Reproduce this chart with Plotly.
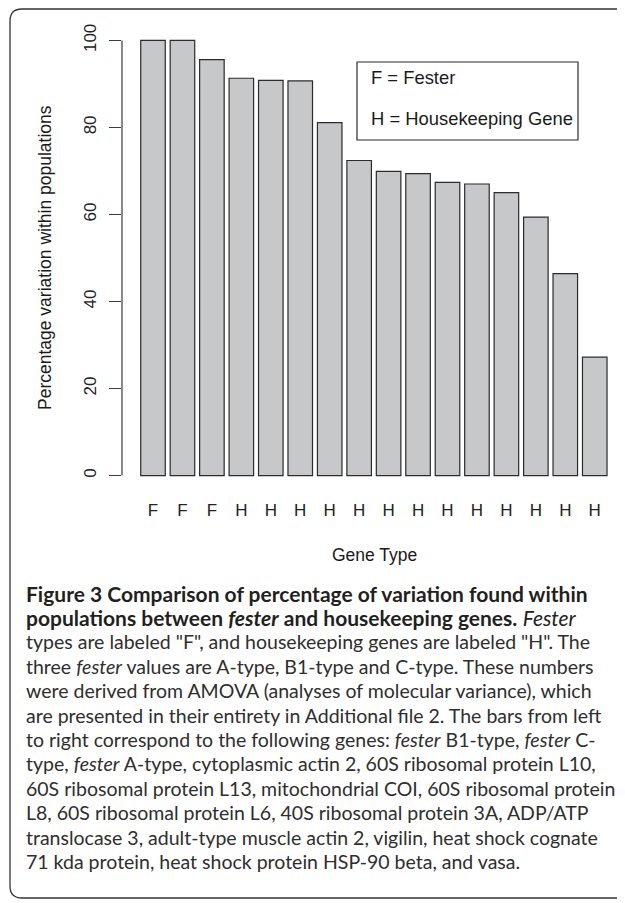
import plotly.graph_objects as go

# ---- data ----
gene_types = ["F", "F", "F", "H", "H", "H", "H", "H", "H", "H", "H", "H", "H", "H", "H", "H"]
gene_names = ["fester B1-type", "fester C-type", "fester A-type", "cytoplasmic actin 2",
              "60S ribosomal protein L10", "60S ribosomal protein L13", "mitochondrial COI",
              "60S ribosomal protein L8", "60S ribosomal protein L6", "40S ribosomal protein 3A",
              "ADP/ATP translocase 3", "adult-type muscle actin 2", "vigilin",
              "heat shock cognate 71 kda protein", "heat shock protein HSP-90 beta", "vasa"]
pct_within = [100, 100, 95.6, 91.3, 90.8, 90.7, 81.1, 72.4, 69.9, 69.4, 67.4, 67.0, 65.0, 59.4, 46.4, 27.2]
y_ticks = [0, 20, 40, 60, 80, 100]

caption_lines = [
    "<b>Figure 3 Comparison of percentage of variation found within</b>",
    "<b>populations between <i>fester</i> and housekeeping genes.</b> <i>Fester</i>",
    "types are labeled \"F\", and housekeeping genes are labeled \"H\". The",
    "three <i>fester</i> values are A-type, B1-type and C-type. These numbers",
    "were derived from AMOVA (analyses of molecular variance), which",
    "are presented in their entirety in Additional file 2. The bars from left",
    "to right correspond to the following genes: <i>fester</i> B1-type, <i>fester</i> C-",
    "type, <i>fester</i> A-type, cytoplasmic actin 2, 60S ribosomal protein L10,",
    "60S ribosomal protein L13, mitochondrial COI, 60S ribosomal protein",
    "L8, 60S ribosomal protein L6, 40S ribosomal protein 3A, ADP/ATP",
    "translocase 3, adult-type muscle actin 2, vigilin, heat shock cognate",
    "71 kda protein, heat shock protein HSP-90 beta, and vasa.",
]

# ---- layout geometry (window pixels; the page body adds an 8px offset) ----
OFF = 8
WIN_W, WIN_H = 625, 903
W, H = WIN_W - OFF, WIN_H - OFF
AX_X, PLOT_TOP, PLOT_BOT = 122, 23, 493      # window pixel positions
ML, MR, MT, MB = AX_X - OFF, 0, PLOT_TOP - OFF, WIN_H - PLOT_BOT
PW, PH = W - ML - MR, H - MT - MB


def px(x):
    return (x - OFF - ML) / PW


def py(y):
    return (H - MB - (y - OFF)) / PH


positions = list(range(len(pct_within)))
axis_font = "Liberation Sans, Arial, Helvetica, sans-serif"
cap_font = "Lato, Open Sans, sans-serif"
pitch = 29.45
first_center = 153

fig = go.Figure()
fig.add_trace(go.Bar(
    x=positions, y=pct_within, width=1 / 1.2,
    marker=dict(color="#c7c8ca", line=dict(color="#2b2b2b", width=1.2)),
    customdata=gene_names, hovertemplate="%{customdata}: %{y}%<extra></extra>",
))

shapes = [
    dict(type="line", xref="paper", yref="y", x0=0, x1=0, y0=y_ticks[0], y1=y_ticks[-1],
         line=dict(color="#3a3a3a", width=1.2)),
    dict(type="rect", xref="paper", yref="paper", x0=px(357), x1=px(578), y0=py(62), y1=py(140),
         line=dict(color="#2b2b2b", width=1.2), fillcolor="rgba(0,0,0,0)"),
    dict(type="path", xref="paper", yref="paper",
         path=(f"M {px(640)},{py(9)} L {px(22)},{py(9)} "
               f"Q {px(10)},{py(9)} {px(10)},{py(21)} L {px(10)},{py(886)} "
               f"Q {px(10)},{py(898)} {px(22)},{py(898)} L {px(640)},{py(898)}"),
         line=dict(color="#333333", width=1.3)),
]

annotations = [
    dict(text="F = Fester", x=px(369), y=py(77), xref="paper", yref="paper",
         xanchor="left", yanchor="middle", showarrow=False,
         font=dict(family=axis_font, size=18.4, color="#1a1a1a")),
    dict(text="H = Housekeeping Gene", x=px(369), y=py(118.5), xref="paper", yref="paper",
         xanchor="left", yanchor="middle", showarrow=False,
         font=dict(family=axis_font, size=18.4, color="#1a1a1a")),
    dict(text="Gene Type", x=px(374), y=py(555), xref="paper", yref="paper",
         xanchor="center", yanchor="middle", showarrow=False,
         font=dict(family=axis_font, size=17.5, color="#1a1a1a")),
    dict(text="Percentage variation within populations", x=px(45), y=py(258),
         xref="paper", yref="paper", xanchor="center", yanchor="middle", textangle=-90,
         showarrow=False, font=dict(family=axis_font, size=17.5, color="#1a1a1a")),
]

line_y0, line_dy = 593, 24.4
for i, t in enumerate(caption_lines):
    annotations.append(dict(
        text=t, x=px(24), y=py(line_y0 + i * line_dy), xref="paper", yref="paper",
        xanchor="left", yanchor="middle", showarrow=False,
        font=dict(family=cap_font, size=21 if i < 2 else 19.5,
                  color="#231f20" if i < 2 else "#2e2e2e"),
    ))

fig.update_layout(
    width=W, height=H,
    margin=dict(l=ML, r=MR, t=MT, b=MB, pad=0),
    paper_bgcolor="white", plot_bgcolor="white",
    showlegend=False,
    shapes=shapes, annotations=annotations,
    xaxis=dict(range=[-(first_center - AX_X) / pitch, (WIN_W - first_center) / pitch],
               tickmode="array", tickvals=positions, ticktext=gene_types, showline=False,
               showgrid=False, zeroline=False, ticks="", ticklabelstandoff=5,
               tickfont=dict(family=axis_font, size=17, color="#222222")),
    yaxis=dict(range=[-4, 104], tickmode="array", tickvals=y_ticks,
               ticktext=[str(v) for v in y_ticks], showline=False, showgrid=False,
               zeroline=False, ticks="outside", ticklen=12, tickwidth=1.2, tickcolor="#3a3a3a",
               tickangle=-90, ticklabelstandoff=6,
               tickfont=dict(family=axis_font, size=17, color="#222222")),
)

fig.write_html("out.html")
